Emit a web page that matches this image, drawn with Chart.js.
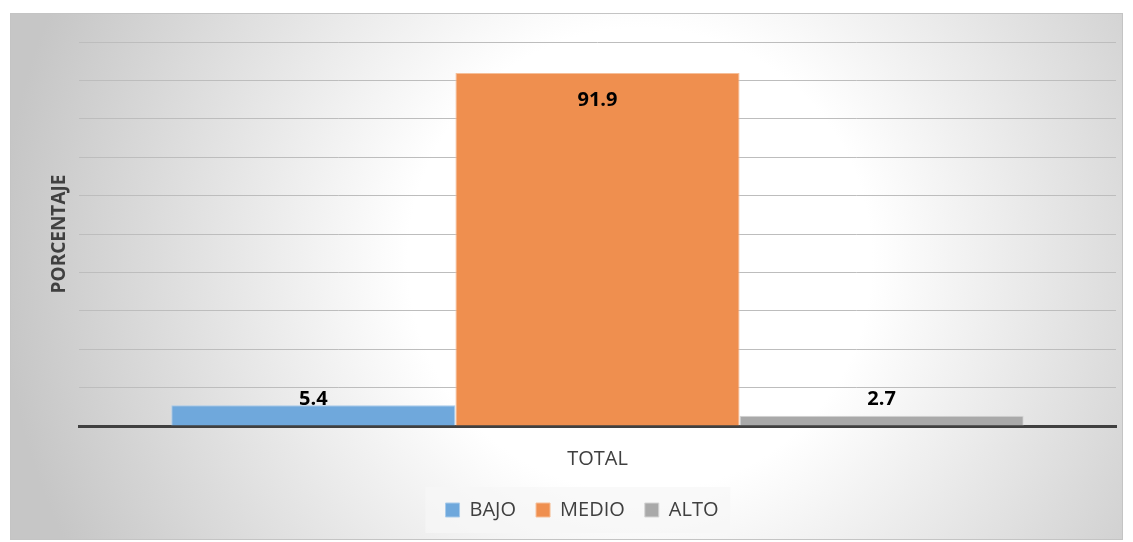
<!DOCTYPE html>
<html>
<head>
<meta charset="utf-8">
<script src="https://cdn.jsdelivr.net/npm/chart.js@4/dist/chart.umd.min.js"></script>
<style>
  html, body { margin: 0; padding: 0; background: #fff; }
  #wrap { width: 1133px; height: 542px; }
</style>
</head>
<body>
<div id="wrap"><canvas id="myChart"></canvas></div>
<script>
const categories = ["TOTAL"];
const seriesNames = ["BAJO", "MEDIO", "ALTO"];
const bajo = [5.4];
const medio = [91.9];
const alto = [2.7];

const FONT = "'Open Sans', 'Liberation Sans', sans-serif";

// frame + radial grey background, light box behind legend
const backdrop = {
  id: "backdrop",
  beforeDraw(chart) {
    const ctx = chart.ctx;
    ctx.save();
    ctx.fillStyle = "#fff";
    ctx.fillRect(0, 0, chart.width, chart.height);
    const g = ctx.createRadialGradient(640, 260, 40, 640, 260, 640);
    g.addColorStop(0, "#ffffff");
    g.addColorStop(0.32, "#ffffff");
    g.addColorStop(1, "#c6c6c6");
    ctx.fillStyle = g;
    ctx.fillRect(10, 13, 1113, 527);
    ctx.strokeStyle = "#c4c4c4";
    ctx.lineWidth = 1;
    ctx.strokeRect(10.5, 13.5, 1112, 526);
    const boxes = chart.legend && chart.legend.legendHitBoxes;
    if (boxes && boxes.length) {
      const l = Math.min(...boxes.map(b => b.left)) - 20;
      const r = Math.max(...boxes.map(b => b.left + b.width)) + 12;
      const t = boxes[0].top - 13;
      ctx.fillStyle = "rgba(246,246,246,0.7)";
      ctx.fillRect(l, t, r - l, 46);
    }
    ctx.restore();
  }
};

// value labels like Excel "inside end"
const valueLabels = {
  id: "valueLabels",
  afterDatasetsDraw(chart) {
    const ctx = chart.ctx;
    const base = chart.scales.y.getPixelForValue(0);
    ctx.save();
    ctx.font = "bold 20px " + FONT;
    ctx.fillStyle = "#000";
    ctx.textAlign = "center";
    ctx.textBaseline = "middle";
    chart.data.datasets.forEach((ds, i) => {
      chart.getDatasetMeta(i).data.forEach((bar, j) => {
        const y = Math.min(bar.y + 27, base - 27);
        ctx.fillText(ds.data[j].toFixed(1), bar.x, y);
      });
    });
    ctx.restore();
  }
};

new Chart(document.getElementById("myChart"), {
  type: "bar",
  data: {
    labels: categories,
    datasets: [{
      label: seriesNames[0],
      data: bajo,
      backgroundColor: "#6fa8dc",
      borderColor: "#a9cbea",
      borderWidth: 1
    }, {
      label: seriesNames[1],
      data: medio,
      backgroundColor: "#ef8f4f",
      borderColor: "#f6bf99",
      borderWidth: 1
    }, {
      label: seriesNames[2],
      data: alto,
      backgroundColor: "#a9a9a9",
      borderColor: "#d4d4d4",
      borderWidth: 1
    }]
  },
  options: {
    responsive: true,
    maintainAspectRatio: false,
    animation: false,
    layout: { padding: { left: 48, right: 17, top: 42, bottom: 12 } },
    datasets: { bar: { categoryPercentage: 0.822, barPercentage: 1 } },
    plugins: {
      tooltip: { enabled: false },
      legend: {
        position: "bottom",
        labels: {
          boxWidth: 14,
          boxHeight: 14,
          color: "#404040",
          font: { family: FONT, size: 20 },
          padding: 20
        }
      }
    },
    scales: {
      x: {
        grid: { display: false },
        border: { display: true, color: "#404040", width: 3 },
        ticks: { color: "#404040", font: { family: FONT, size: 20 }, padding: 13 },
        afterFit(scale) { scale.height = 54; }
      },
      y: {
        min: 0,
        max: 100,
        ticks: { display: false, stepSize: 10 },
        grid: { color: "#bdbdbd", lineWidth: 1, drawTicks: false },
        border: { display: false },
        title: {
          display: true,
          text: "PORCENTAJE",
          color: "#404040",
          font: { family: FONT, size: 19, weight: "bold" },
          padding: 0
        },
        afterFit(scale) { scale.width = 31; }
      }
    }
  },
  plugins: [backdrop, valueLabels]
});
</script>
</body>
</html>
